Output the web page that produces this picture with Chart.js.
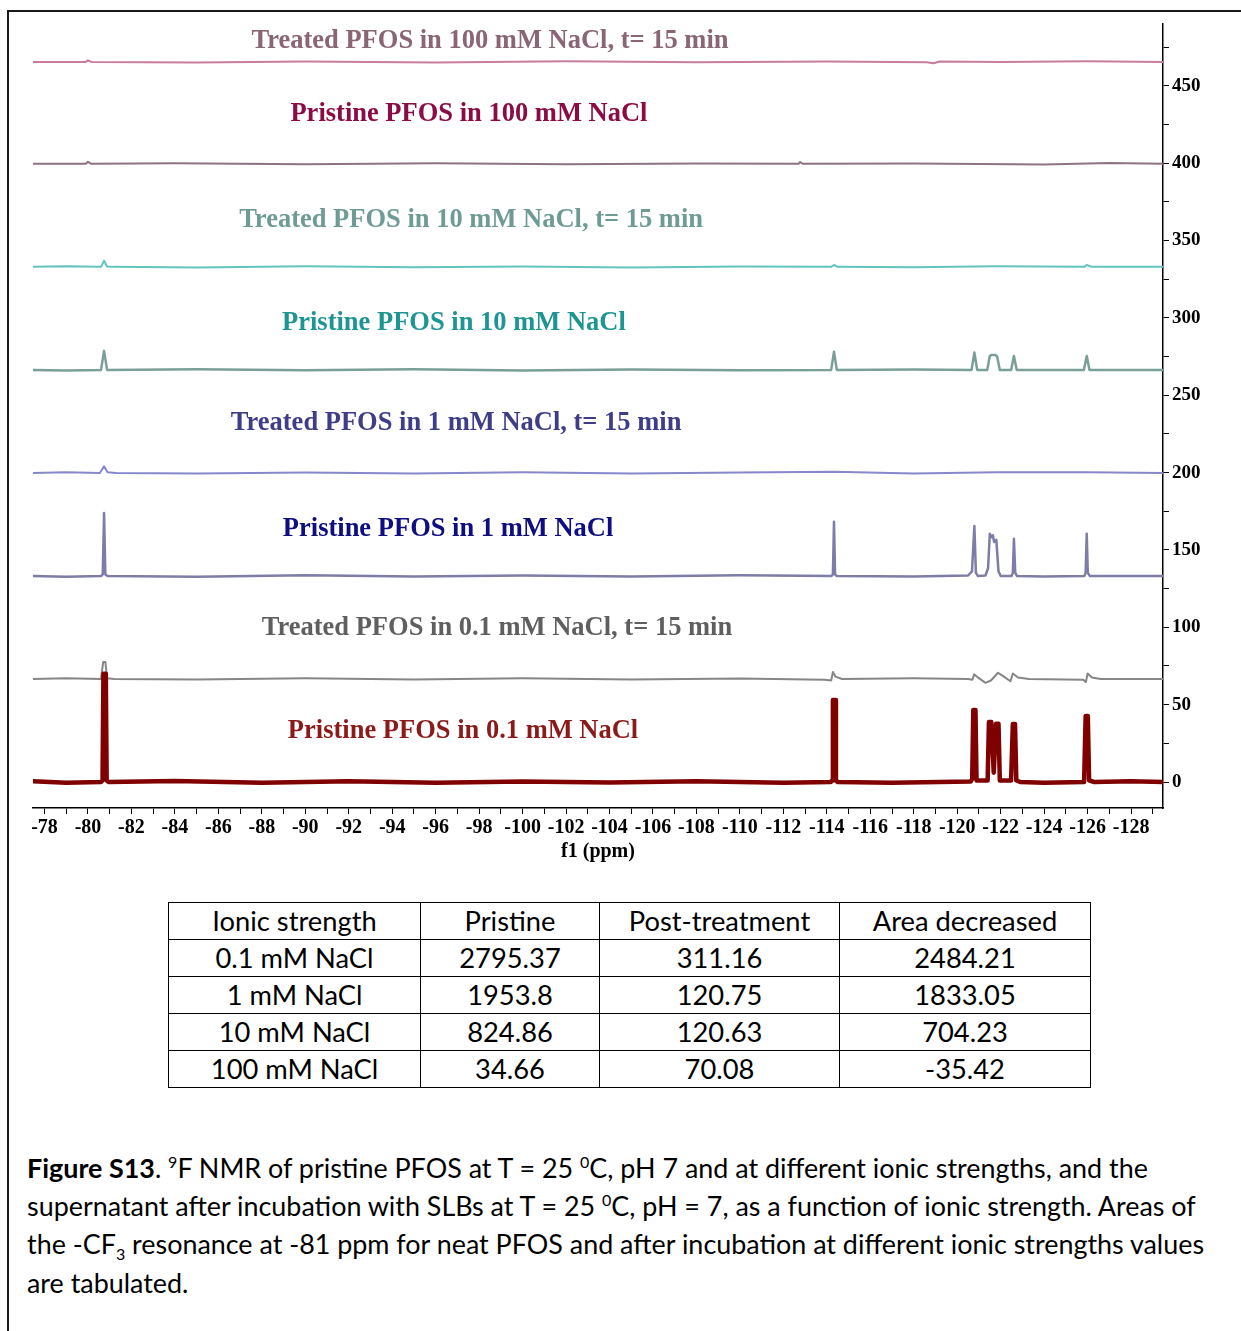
<!DOCTYPE html>
<html><head><meta charset="utf-8">
<script src="https://cdn.jsdelivr.net/npm/chart.js@4.4.1/dist/chart.umd.min.js"></script>
<style>
html,body{margin:0;padding:0;overflow:hidden;background:#fff;width:1241px;height:1331px;}
#frame{position:absolute;left:7px;top:10px;width:1300px;height:1400px;border:2px solid #1a1a1a;box-sizing:border-box;}
#chartBox{position:absolute;left:0;top:0;width:1241px;height:870px;}
#tbl{position:absolute;left:168px;top:902px;border-collapse:collapse;font-family:Lato,"Open Sans",sans-serif;font-size:27.3px;color:#000;}
#tbl tr{height:37px;}
#tbl td{border:1.5px solid #000;height:36px;padding:0;text-align:center;line-height:36px;box-sizing:border-box;}
#caption{position:absolute;left:27px;top:1149px;font-family:Lato,"Open Sans",sans-serif;font-size:26.9px;line-height:38.2px;white-space:nowrap;color:#000;}
#caption sup,#caption sub{font-size:16px;line-height:0;}
</style></head>
<body>
<div id="frame"></div>
<div id="chartBox"><canvas id="c" width="1241" height="870"></canvas></div>
<table id="tbl"></table>
<div id="caption"><b>Figure S13</b>. <sup>9</sup>F NMR of pristine PFOS at T = 25 <sup>0</sup>C, pH 7 and at different ionic strengths, and the<br>supernatant after incubation with SLBs at T = 25 <sup>0</sup>C, pH = 7, as a function of ionic strength. Areas of<br>the -CF<sub>3</sub> resonance at -81 ppm for neat PFOS and after incubation at different ionic strengths values<br>are tabulated.</div>
<script>
// ---------- DATA ----------
const seriesNames = [
  'Pristine PFOS in 0.1 mM NaCl',
  'Treated PFOS in 0.1 mM NaCl, t= 15 min',
  'Pristine PFOS in 1 mM NaCl',
  'Treated PFOS in 1 mM NaCl, t= 15 min',
  'Pristine PFOS in 10 mM NaCl',
  'Treated PFOS in 10 mM NaCl, t= 15 min',
  'Pristine PFOS in 100 mM NaCl',
  'Treated PFOS in 100 mM NaCl, t= 15 min'
];
// vertical stacking offsets of each trace (axis units)
const offsets = [0, 66.6, 133.2, 199.8, 266.4, 333.0, 399.6, 465.5];

// spectra: [ppm, intensity above own baseline]
const pristine01 = [[-77.47,0.5],[-79,-0.5],[-80.6,0],[-80.67,1],[-80.71,70],[-80.82,70],[-80.86,1],[-80.95,0],[-84,0.6],[-88,-0.4],[-92,0.5],[-96,-0.5],[-100,0.4],[-104,-0.3],[-108,0.5],[-112,-0.4],[-114.18,0],[-114.24,1],[-114.28,53],[-114.38,53],[-114.42,1],[-114.5,0],[-117,-0.5],[-120.62,0.3],[-120.69,2],[-120.74,46.5],[-120.84,46.5],[-120.89,1],[-121.4,1],[-121.46,38.8],[-121.57,38.8],[-121.68,6],[-121.79,37.6],[-121.9,37.6],[-121.96,1],[-122.48,1],[-122.56,37.5],[-122.66,37.5],[-122.72,1],[-122.9,0],[-124,-0.5],[-125.84,0],[-125.91,42.7],[-126.01,42.7],[-126.07,1],[-126.3,0],[-128,0.5],[-129.47,0]];
const treated01 = [[-77.47,0],[-79,0.4],[-80.6,0],[-80.7,11],[-80.8,11],[-80.88,0.5],[-81.2,0],[-85,-0.4],[-90,0.4],[-95,-0.3],[-100,0.4],[-105,-0.4],[-110,0.3],[-113.9,-0.5],[-114.2,-1],[-114.28,4.5],[-114.4,1.5],[-114.7,0],[-118,0.4],[-120.5,0],[-120.7,-0.5],[-120.78,3],[-120.95,1],[-121.3,-2.5],[-121.55,-1],[-121.88,4],[-122.1,2],[-122.45,-1.5],[-122.56,3.5],[-122.8,1],[-123.3,0],[-125.8,-0.5],[-125.92,-2],[-126.0,3.5],[-126.2,1],[-126.6,0],[-129.47,0]];
const pristine1 = [[-77.47,0],[-79,-0.5],[-80.6,0],[-80.68,1],[-80.74,40.7],[-80.8,1],[-80.9,0],[-85,-0.5],[-90,0.4],[-95,-0.4],[-100,0.3],[-105,-0.4],[-110,0.4],[-114.22,0],[-114.28,1],[-114.33,35],[-114.38,1],[-114.45,0],[-118,-0.4],[-120.5,0.3],[-120.68,3],[-120.79,32.3],[-120.86,2],[-120.95,0],[-121.3,0.3],[-121.42,5],[-121.5,27.3],[-121.58,25],[-121.64,26.3],[-121.7,22],[-121.8,23.3],[-121.9,3],[-122.0,0],[-122.5,0],[-122.56,2],[-122.61,24],[-122.67,2],[-122.75,0],[-124,-0.4],[-125.85,0],[-125.91,2],[-125.96,27.3],[-126.01,2],[-126.1,0],[-129.47,0]];
const treated1 = [[-77.47,0],[-79,0.4],[-80.55,0],[-80.74,4.3],[-80.9,0.5],[-81.3,0],[-85,-0.4],[-90,0.3],[-95,-0.4],[-100,0.4],[-105,-0.3],[-110,0.3],[-114.33,0.8],[-118,-0.3],[-121.8,0.5],[-126,0.4],[-129.47,0]];
const pristine10 = [[-77.47,0],[-79,-0.4],[-80.6,0],[-80.74,12.3],[-80.88,0],[-85,0.4],[-90,-0.3],[-95,0.4],[-100,-0.4],[-105,0.3],[-110,-0.3],[-114.2,0],[-114.33,11.8],[-114.46,0],[-118,0.3],[-120.66,0],[-120.79,11.2],[-120.92,0],[-121.38,0],[-121.5,9],[-121.58,9.7],[-121.75,9.7],[-121.84,8.5],[-121.96,0],[-122.48,0],[-122.61,9],[-122.74,0],[-125.83,0],[-125.96,9],[-126.09,0],[-129.47,0]];
const treated10 = [[-77.47,0],[-79,0.4],[-80.6,0],[-80.74,4],[-80.88,0.3],[-81.2,0],[-85,-0.4],[-90,0.4],[-95,-0.3],[-100,0.3],[-105,-0.4],[-110,0.3],[-114.2,0],[-114.33,1.2],[-114.5,0],[-118,-0.3],[-121.7,0.4],[-125.85,0],[-125.96,1.2],[-126.2,0],[-129.47,0]];
const pristine100 = [[-77.47,0],[-79.9,0],[-80.0,1.3],[-80.15,0],[-84,0.4],[-90,-0.3],[-96,0.4],[-102,-0.3],[-108,0.3],[-112.7,0],[-112.77,1.2],[-112.9,0],[-118,0.3],[-124,-0.4],[-127,0.5],[-129.47,0]];
const treated100 = [[-77.47,0],[-79.9,0],[-80.0,1.0],[-80.15,0],[-85,-0.4],[-90,0.3],[-96,-0.4],[-102,0.4],[-108,-0.3],[-114,0.3],[-118.6,-0.3],[-118.9,-0.9],[-119.2,0.3],[-122,0],[-126,0.4],[-129.47,0]];
const spectra = [pristine01, treated01, pristine1, treated1, pristine10, treated10, pristine100, treated100];

// axis ticks
const xTickValues = [-78,-79,-80,-81,-82,-83,-84,-85,-86,-87,-88,-89,-90,-91,-92,-93,-94,-95,-96,-97,-98,-99,-100,-101,-102,-103,-104,-105,-106,-107,-108,-109,-110,-111,-112,-113,-114,-115,-116,-117,-118,-119,-120,-121,-122,-123,-124,-125,-126,-127,-128,-129];
const xTickLabels = ['-78','-80','-82','-84','-86','-88','-90','-92','-94','-96','-98','-100','-102','-104','-106','-108','-110','-112','-114','-116','-118','-120','-122','-124','-126','-128'];
const yTickValues = [0,25,50,75,100,125,150,175,200,225,250,275,300,325,350,375,400,425,450,475];
const yTickLabels = ['0','50','100','150','200','250','300','350','400','450'];

// table
const tableHeader = ['Ionic strength','Pristine','Post-treatment','Area decreased'];
const ionicStrength = ['0.1 mM NaCl','1 mM NaCl','10 mM NaCl','100 mM NaCl'];
const pristineArea = ['2795.37','1953.8','824.86','34.66'];
const postArea = ['311.16','120.75','120.63','70.08'];
const areaDecreased = ['2484.21','1833.05','704.23','-35.42'];

// ---------- STYLE / LAYOUT ----------
const lineColors = ['#800000','#868686','#7d7da8','#8787cc','#7a9f98','#62c3c1','#8f7282','#c97c9e'];
const lineWidths = [4.5,2,2.5,2,2.5,2,2,2];
const labelColors = ['#8b1a1a','#5f5f5f','#0e0e80','#3d3d88','#1d9592','#6e9c94','#8b0b45','#8a6575'];
const labelAnchors = [[-97.26,33.0],[-98.82,99.6],[-96.57,163.6],[-96.94,232.1],[-96.84,296.8],[-97.63,363.3],[-97.53,431.9],[-98.5,479.1]];
const colWidths = [252,179,240,251];

// build table
(function(){
  const t = document.getElementById('tbl');
  const rows = [tableHeader];
  for (let i=0;i<ionicStrength.length;i++) rows.push([ionicStrength[i],pristineArea[i],postArea[i],areaDecreased[i]]);
  rows.forEach(r=>{
    const tr=document.createElement('tr');
    r.forEach((v,j)=>{const td=document.createElement('td');td.textContent=v;td.style.width=colWidths[j]+'px';tr.appendChild(td);});
    t.appendChild(tr);
  });
})();

const datasets = spectra.map((s,i)=>({
  label: seriesNames[i],
  data: s.map(p=>({x:p[0], y:p[1]+offsets[i]})),
  borderColor: lineColors[i],
  borderWidth: lineWidths[i],
  pointRadius: 0,
  tension: 0,
  fill: false,
  borderJoinStyle: 'round',
  borderCapStyle: 'round'
}));

const labelPlugin = {
  id:'traceLabels',
  afterDatasetsDraw(chart){
    const {ctx, scales:{x,y}} = chart;
    ctx.save();
    ctx.font = 'bold 26.5px "Liberation Serif", "Times New Roman", serif';
    ctx.textAlign = 'center';
    ctx.textBaseline = 'middle';
    seriesNames.forEach((n,i)=>{
      ctx.fillStyle = labelColors[i];
      ctx.fillText(n, x.getPixelForValue(labelAnchors[i][0]), y.getPixelForValue(labelAnchors[i][1]));
    });
    ctx.restore();
  }
};

const axisFontX = {family:'"Liberation Serif", "Times New Roman", serif', size:20, weight:'bold'};
const axisFontY = {family:'"Liberation Serif", "Times New Roman", serif', size:19, weight:'bold'};

new Chart(document.getElementById('c'), {
  type:'line',
  data:{datasets},
  plugins:[labelPlugin],
  options:{
    responsive:false,
    devicePixelRatio:1,
    animation:false,
    events:[],
    layout:{padding:{left:33, top:24, right:0, bottom:0}},
    plugins:{legend:{display:false}, tooltip:{enabled:false}},
    scales:{
      x:{
        type:'linear', reverse:true, min:-129.47, max:-77.47,
        afterBuildTicks:(ax)=>{ ax.ticks = xTickValues.map(v=>({value:v})); },
        afterFit:(ax)=>{ ax.height = 62; },
        grid:{drawOnChartArea:false, drawTicks:true, tickLength:6, color:'#000', tickColor:'#000'},
        border:{display:true, color:'#000', width:1.5},
        ticks:{autoSkip:false, maxRotation:0, minRotation:0, padding:2, color:'#000', font:axisFontX,
          callback:(v)=>{ const s=String(v); return xTickLabels.includes(s)?s:''; }},
        title:{display:true, text:'f1 (ppm)', color:'#000', font:axisFontX, padding:{top:0,bottom:6}}
      },
      y:{
        type:'linear', position:'right', min:-16.8, max:490,
        afterBuildTicks:(ax)=>{ ax.ticks = yTickValues.map(v=>({value:v})); },
        afterFit:(ax)=>{ ax.width = 78; },
        grid:{drawOnChartArea:false, drawTicks:true, tickLength:6, color:'#000', tickColor:'#000'},
        border:{display:true, color:'#000', width:1.5},
        ticks:{autoSkip:false, padding:3, color:'#000', font:axisFontY,
          callback:(v)=>{ const s=String(v); return yTickLabels.includes(s)?s:''; }}
      }
    }
  }
});
</script>
</body></html>
